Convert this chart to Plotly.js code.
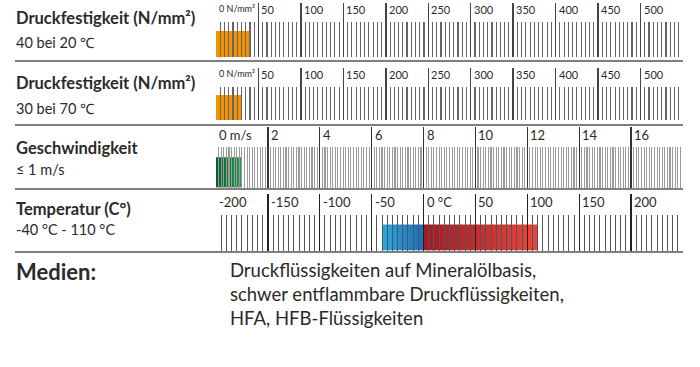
<!DOCTYPE html>
<html><head><meta charset="utf-8">
<script src="https://cdn.plot.ly/plotly-3.0.1.min.js"></script>
<style>html,body{margin:0;padding:0;background:#fff}#chart{width:700px;height:367px}</style>
</head><body><div id="chart"></div>
<script>
// ---- data ----
const rowTitles = ['Druckfestigkeit (N/mm²)', 'Druckfestigkeit (N/mm²)', 'Geschwindigkeit', 'Temperatur (C°)'];
const rowSubtitles = ['40 bei 20 ℃', '30 bei 70 ℃', '≤ 1 m/s', '-40 °C - 110 °C'];

const pressureTickVals = [0, 50, 100, 150, 200, 250, 300, 350, 400, 450, 500];
const pressureTickLabels = ['0 N/mm²', '50', '100', '150', '200', '250', '300', '350', '400', '450', '500'];
const pressure20 = 40;   // N/mm² at 20 °C
const pressure70 = 30;   // N/mm² at 70 °C

const speedTickVals = [0, 2, 4, 6, 8, 10, 12, 14, 16];
const speedTickLabels = ['0 m/s', '2', '4', '6', '8', '10', '12', '14', '16'];
const speedMax = 1;      // m/s

const tempTickVals = [-200, -150, -100, -50, 0, 50, 100, 150, 200];
const tempTickLabels = ['-200', '-150', '-100', '-50', '0 °C', '50', '100', '150', '200'];
const tempSegStart = [-40, 0];
const tempSegEnd = [0, 110];

const mediaLabel = 'Medien:';
const mediaLines = ['Druckflüssigkeiten auf Mineralölbasis,', 'schwer entflammbare Druckflüssigkeiten,', 'HFA, HFB-Flüssigkeiten'];

// ---- layout helpers ----
const W = 700, H = 367;
const FONT = 'Lato, "Noto Sans", sans-serif';
const TXT = '#2b2a29';
const py = p => 1 - p / H;
const px = p => p / W;
const xDom = [px(216), px(683)];

// panels: top/bottom px of plot area, minor tick top px
const panels = [
  {top: 3, bottom: 57, minorTop: 22, range: [0, 550], dtick: 50, minor: 5, minorColor: '#666', majorColor: '#444', mw: 1.1},
  {top: 68, bottom: 120, minorTop: 87, range: [0, 550], dtick: 50, minor: 5, minorColor: '#666', majorColor: '#444', mw: 1.1},
  {top: 127, bottom: 187.5, minorTop: 147, range: [0, 18], dtick: 2, minor: 0.1, minorColor: '#9a9a9a', majorColor: '#333', mw: 1.1},
  {top: 194, bottom: 250.5, minorTop: 215, range: [-200, 250], dtick: 50, minor: 5, minorColor: '#555', majorColor: '#222', mw: 1.0}
];
const barTop = [0.48, 0.48, 0.5, 0.46];

const layout = {
  width: W, height: H,
  margin: {l: 0, r: 0, t: 0, b: 0},
  paper_bgcolor: '#fff', plot_bgcolor: 'rgba(0,0,0,0)',
  showlegend: false,
  font: {family: FONT, color: TXT},
  annotations: [], shapes: []
};

panels.forEach((p, i) => {
  const n = i === 0 ? '' : String(i + 1);
  layout['xaxis' + n] = {
    domain: xDom, range: p.range, anchor: 'y' + n,
    tickmode: 'linear', tick0: 0, dtick: p.dtick,
    ticks: 'inside', ticklen: p.bottom - p.top, tickwidth: 1.4, tickcolor: p.majorColor,
    showticklabels: false, showgrid: false, zeroline: false, showline: false, fixedrange: true,
    minor: {ticks: 'inside', tick0: 0, dtick: p.minor, ticklen: p.bottom - p.minorTop,
            tickwidth: p.mw, tickcolor: p.minorColor, showgrid: false},
    layer: 'above traces'
  };
  layout['yaxis' + n] = {
    domain: [py(p.bottom), py(p.top)], range: [0, 1], anchor: 'x' + n,
    visible: false, fixedrange: true
  };
});

// extra medium ticks on speed scale
layout.xaxis5 = {
  domain: xDom, range: panels[2].range, anchor: 'y3', overlaying: 'x3',
  tickmode: 'linear', tick0: 0, dtick: 0.5,
  ticks: 'inside', ticklen: panels[2].bottom - panels[2].minorTop, tickwidth: 1.1, tickcolor: '#444',
  showticklabels: false, showgrid: false, zeroline: false, showline: false, fixedrange: true
};

// tick labels as annotations
function addLabels(vals, labels, axisN, size, firstSize) {
  vals.forEach((v, k) => {
    layout.annotations.push({
      x: v, y: 1, xref: 'x' + axisN, yref: 'y' + axisN + ' domain',
      xanchor: 'left', yanchor: 'top', xshift: 1, yshift: 2, showarrow: false,
      text: labels[k], font: {family: FONT, size: k === 0 && firstSize ? firstSize : size, color: TXT}
    });
  });
}
addLabels(pressureTickVals, pressureTickLabels, '', 11, 9);
addLabels(pressureTickVals, pressureTickLabels, '2', 11, 9);
addLabels(speedTickVals, speedTickLabels, '3', 13);
addLabels(tempTickVals, tempTickLabels, '4', 13);

// row titles
const titleY = [18, 83, 148, 209];
const subY = [43, 108, 170, 229];
rowTitles.forEach((t, i) => {
  layout.annotations.push({x: px(14), y: py(titleY[i]), xref: 'paper', yref: 'paper', xanchor: 'left', yanchor: 'middle',
    showarrow: false, text: '<b>' + t + '</b>', font: {family: FONT, size: 16.5, color: TXT}});
  layout.annotations.push({x: px(14), y: py(subY[i]), xref: 'paper', yref: 'paper', xanchor: 'left', yanchor: 'middle',
    showarrow: false, text: rowSubtitles[i], font: {family: FONT, size: 14.5, color: TXT}});
});

// separators
[61, 125, 189, 252].forEach(yv => {
  layout.shapes.push({type: 'line', xref: 'paper', yref: 'paper', x0: px(15), x1: px(683), y0: py(yv), y1: py(yv),
    line: {color: '#555', width: 1.6}});
});

// media
layout.annotations.push({x: px(14), y: py(271), xref: 'paper', yref: 'paper', xanchor: 'left', yanchor: 'middle',
  showarrow: false, text: '<b>' + mediaLabel + '</b>', font: {family: FONT, size: 22, color: TXT}});
layout.annotations.push({x: px(228), y: py(257), xref: 'paper', yref: 'paper', xanchor: 'left', yanchor: 'top',
  showarrow: false, align: 'left', text: mediaLines.join('<br>'), font: {family: FONT, size: 18.5, color: TXT}});

// bars
function barTrace(x0, x1, axisN, h, fill) {
  const t = {
    type: 'scatter', mode: 'lines', x: [x0, x1, x1, x0, x0], y: [0, 0, h, h, 0],
    xaxis: 'x' + axisN, yaxis: 'y' + axisN, fill: 'toself', line: {width: 0}, hoverinfo: 'skip'
  };
  if (typeof fill === 'string') t.fillcolor = fill;
  else t.fillgradient = {type: 'horizontal', colorscale: fill};
  return t;
}
const data = [
  barTrace(0, pressure20, '', barTop[0], '#f39200'),
  barTrace(0, pressure70, '2', barTop[1], '#f39200'),
  barTrace(0, speedMax, '3', barTop[2], [[0, '#0b5a2c'], [1, '#1fa04e']]),
  barTrace(tempSegStart[0], tempSegEnd[0], '4', barTop[3], [[0, '#2aaae2'], [1, '#1c6db5']]),
  barTrace(tempSegStart[1], tempSegEnd[1], '4', barTop[3], [[0, '#a01a26'], [1, '#ea4538']])
];

Plotly.newPlot('chart', data, layout, {staticPlot: true, displayModeBar: false});
</script></body></html>
